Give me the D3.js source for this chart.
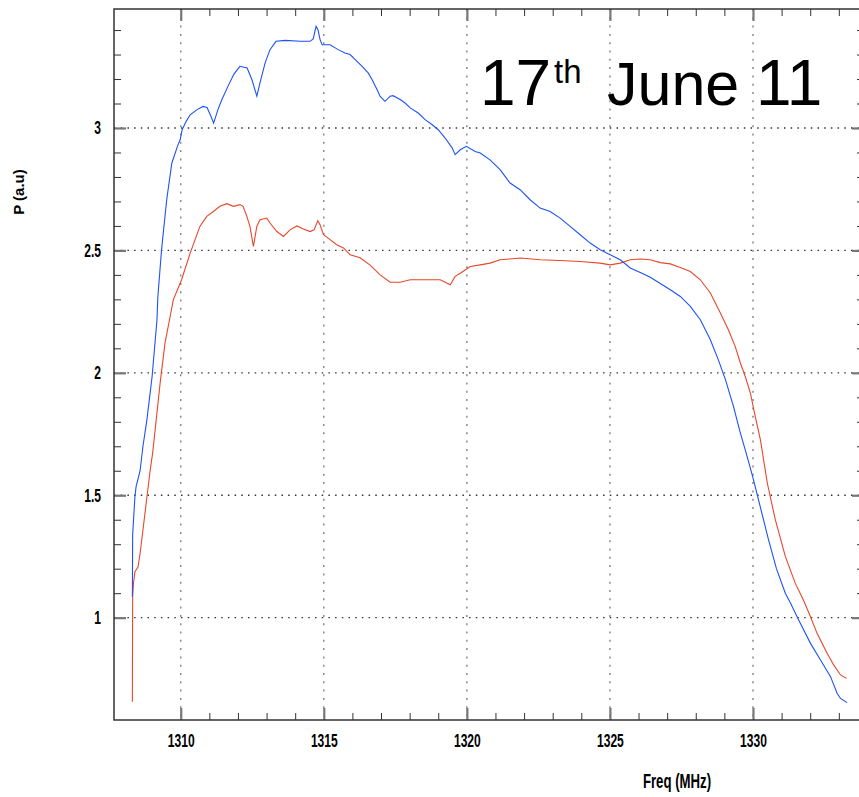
<!DOCTYPE html>
<html>
<head>
<meta charset="utf-8">
<script src="https://d3js.org/d3.v7.min.js"></script>
<style>
  body { margin: 0; background: #fff; }
</style>
</head>
<body>
<div id="chart"></div>
<script>
// traced values, frequency in MHz and power in a.u.
var blueFreq = [1308.31, 1308.32, 1308.40, 1308.44, 1308.58, 1308.68, 1308.82, 1309.00, 1309.17, 1309.20,
  1309.33, 1309.51, 1309.69, 1309.90, 1309.98, 1310.05, 1310.19, 1310.33, 1310.57, 1310.78,
  1310.92, 1311.06, 1311.15, 1311.30, 1311.44, 1311.65, 1311.86, 1312.07, 1312.32, 1312.49,
  1312.66, 1312.77, 1312.95, 1313.12, 1313.33, 1313.65, 1314.17, 1314.52, 1314.63, 1314.73,
  1314.80, 1314.87, 1314.94, 1315.22, 1315.50, 1315.74, 1315.92, 1316.09, 1316.34, 1316.55,
  1316.69, 1316.86, 1316.97, 1317.14, 1317.32, 1317.42, 1317.67, 1317.84, 1318.02, 1318.30,
  1318.54, 1318.79, 1319.00, 1319.24, 1319.49, 1319.59, 1319.77, 1319.98, 1320.29, 1320.47,
  1320.81, 1321.16, 1321.51, 1321.86, 1322.21, 1322.56, 1322.91, 1323.26, 1323.61, 1323.96,
  1324.31, 1324.66, 1325.01, 1325.36, 1325.71, 1326.06, 1326.41, 1326.76, 1327.11, 1327.46,
  1327.81, 1328.16, 1328.51, 1328.79, 1329.04, 1329.32, 1329.56, 1329.73, 1329.98, 1330.26,
  1330.54, 1330.82, 1331.13, 1331.31, 1331.54, 1332.01, 1332.36, 1332.71, 1332.94, 1333.06, 1333.29];
var bluePow = [1.085, 1.34, 1.495, 1.535, 1.60, 1.70, 1.81, 1.985, 2.217, 2.31,
  2.503, 2.707, 2.857, 2.93, 2.952, 2.993, 3.027, 3.054, 3.075, 3.088,
  3.084, 3.047, 3.02, 3.075, 3.116, 3.17, 3.22, 3.252, 3.245, 3.197,
  3.13, 3.184, 3.266, 3.32, 3.354, 3.358, 3.354, 3.354, 3.364, 3.415,
  3.40, 3.361, 3.34, 3.34, 3.32, 3.306, 3.30, 3.28, 3.252, 3.225,
  3.197, 3.157, 3.129, 3.109, 3.13, 3.132, 3.116, 3.102, 3.082, 3.061,
  3.034, 3.013, 2.993, 2.959, 2.918, 2.891, 2.911, 2.925, 2.904, 2.898,
  2.87, 2.83, 2.775, 2.748, 2.707, 2.673, 2.659, 2.632, 2.598, 2.564,
  2.53, 2.503, 2.482, 2.462, 2.428, 2.41, 2.39, 2.365, 2.339, 2.312,
  2.271, 2.217, 2.135, 2.053, 1.971, 1.862, 1.754, 1.685, 1.58, 1.45,
  1.32, 1.20, 1.10, 1.06, 1.004, 0.895, 0.827, 0.759, 0.691, 0.670, 0.653];

var redFreq = [1308.31, 1308.32, 1308.35, 1308.40, 1308.51, 1308.58, 1308.68, 1308.82, 1308.93, 1309.02,
  1309.28, 1309.45, 1309.63, 1309.74, 1310.03, 1310.33, 1310.67, 1310.91, 1311.14, 1311.37,
  1311.61, 1311.84, 1312.07, 1312.18, 1312.31, 1312.42, 1312.54, 1312.66, 1312.77, 1313.01,
  1313.12, 1313.36, 1313.59, 1313.82, 1314.06, 1314.29, 1314.52, 1314.66, 1314.79, 1314.87,
  1314.99, 1315.22, 1315.45, 1315.69, 1315.92, 1316.27, 1316.62, 1316.97, 1317.32, 1317.67,
  1318.02, 1318.37, 1318.72, 1319.07, 1319.42, 1319.59, 1319.77, 1320.12, 1320.47, 1320.81,
  1321.16, 1321.51, 1321.86, 1322.56, 1323.26, 1323.96, 1324.66, 1325.01, 1325.36, 1325.71,
  1326.06, 1326.41, 1326.76, 1327.11, 1327.46, 1327.81, 1328.16, 1328.51, 1328.86, 1329.14,
  1329.38, 1329.56, 1329.73, 1329.91, 1330.08, 1330.26, 1330.50, 1330.78, 1331.13, 1331.48,
  1331.77, 1332.01, 1332.24, 1332.59, 1332.82, 1333.06, 1333.27];
var redPow = [0.657, 1.085, 1.142, 1.188, 1.208, 1.263, 1.358, 1.494, 1.60, 1.674,
  1.958, 2.121, 2.23, 2.298, 2.38, 2.489, 2.598, 2.639, 2.659, 2.68,
  2.691, 2.68, 2.687, 2.68, 2.639, 2.598, 2.516, 2.598, 2.625, 2.632,
  2.612, 2.577, 2.557, 2.584, 2.60, 2.587, 2.577, 2.584, 2.621, 2.605,
  2.564, 2.544, 2.523, 2.51, 2.482, 2.47, 2.44, 2.40, 2.37, 2.37,
  2.38, 2.38, 2.38, 2.38, 2.36, 2.394, 2.407, 2.434, 2.441, 2.448,
  2.462, 2.465, 2.469, 2.462, 2.459, 2.455, 2.448, 2.441, 2.448, 2.462,
  2.465, 2.462, 2.45, 2.445, 2.43, 2.414, 2.38, 2.326, 2.244, 2.176,
  2.107, 2.04, 1.985, 1.917, 1.821, 1.726, 1.55, 1.40, 1.25, 1.14,
  1.07, 1.004, 0.936, 0.855, 0.807, 0.766, 0.752];

var xMajor = [1310, 1315, 1320, 1325, 1330];
var xMinor = [1311, 1312, 1313, 1314, 1316, 1317, 1318, 1319, 1321, 1322, 1323, 1324,
  1326, 1327, 1328, 1329, 1331, 1332, 1333];
var yMajor = [1, 1.5, 2, 2.5, 3];
var yMinor = [1.1, 1.2, 1.3, 1.4, 1.6, 1.7, 1.8, 1.9, 2.1, 2.2, 2.3, 2.4,
  2.6, 2.7, 2.8, 2.9, 3.1, 3.2, 3.3, 3.4];

var width = 859, height = 797;

var svg = d3.select("#chart").append("svg")
  .attr("width", width)
  .attr("height", height)
  .style("font-family", "'Liberation Sans', Arial, sans-serif");

var x = d3.scaleLinear().domain([1307.668, 1333.88]).range([114, 864]);
var y = d3.scaleLinear().domain([0.582, 3.486]).range([720, 9]);

var plotBottom = y.range()[0], plotTop = y.range()[1];
var plotLeft = x.range()[0], plotRight = x.range()[1];

// grid
svg.append("g").selectAll("line").data(xMajor).enter().append("line")
  .attr("x1", d => x(d)).attr("x2", d => x(d))
  .attr("y1", plotTop).attr("y2", plotBottom)
  .attr("stroke", "#8a8a8a").attr("stroke-width", 1.5)
  .attr("stroke-dasharray", "2,6.3");

svg.append("g").selectAll("line").data(yMajor).enter().append("line")
  .attr("x1", plotLeft).attr("x2", plotRight)
  .attr("y1", d => y(d)).attr("y2", d => y(d))
  .attr("stroke", "#333").attr("stroke-width", 1.3)
  .attr("stroke-dasharray", "1.5,5.2");

// curves
var line = d3.line().x(d => x(d[0])).y(d => y(d[1]));

svg.append("path")
  .datum(d3.zip(redFreq, redPow))
  .attr("d", line)
  .attr("fill", "none")
  .attr("stroke", "#e9462b")
  .attr("stroke-width", 1.1);

svg.append("path")
  .datum(d3.zip(blueFreq, bluePow))
  .attr("d", line)
  .attr("fill", "none")
  .attr("stroke", "#1d52f7")
  .attr("stroke-width", 1.1);

// axes, ticks drawn inward
function ticks(g, color, w) {
  g.select(".domain").remove();
  g.selectAll("line").attr("stroke", color).attr("stroke-width", w);
}

svg.append("g").attr("transform", "translate(0," + plotBottom + ")")
  .call(d3.axisBottom(x).tickValues(xMinor).tickSize(-7).tickFormat(""))
  .call(ticks, "#333", 1);
svg.append("g").attr("transform", "translate(0," + plotTop + ")")
  .call(d3.axisTop(x).tickValues(xMinor).tickSize(-7).tickFormat(""))
  .call(ticks, "#333", 1);
svg.append("g").attr("transform", "translate(" + plotLeft + ",0)")
  .call(d3.axisLeft(y).tickValues(yMinor).tickSize(-7).tickFormat(""))
  .call(ticks, "#333", 1);
svg.append("g").attr("transform", "translate(" + plotRight + ",0)")
  .call(d3.axisRight(y).tickValues(yMinor).tickSize(-7).tickFormat(""))
  .call(ticks, "#333", 1);

var xAx = svg.append("g").attr("transform", "translate(0," + plotBottom + ")")
  .call(d3.axisBottom(x).tickValues(xMajor).tickSize(-12).tickPadding(14).tickFormat(d3.format("d")))
  .call(ticks, "#777", 2.2);
svg.append("g").attr("transform", "translate(0," + plotTop + ")")
  .call(d3.axisTop(x).tickValues(xMajor).tickSize(-12).tickFormat(""))
  .call(ticks, "#777", 2.2);
var yAx = svg.append("g").attr("transform", "translate(" + plotLeft + ",0)")
  .call(d3.axisLeft(y).tickValues(yMajor).tickSize(-12).tickPadding(13).tickFormat(d3.format("~g")))
  .call(ticks, "#777", 2.2);
svg.append("g").attr("transform", "translate(" + plotRight + ",0)")
  .call(d3.axisRight(y).tickValues(yMajor).tickSize(-12).tickFormat(""))
  .call(ticks, "#777", 2.2);

xAx.selectAll("text")
  .attr("font-size", 18).attr("font-weight", "bold").attr("fill", "#000")
  .attr("font-family", "'Liberation Sans', Arial, sans-serif")
  .attr("transform", "scale(0.67,1)");
yAx.selectAll("text")
  .attr("font-size", 18).attr("font-weight", "bold").attr("fill", "#000")
  .attr("font-family", "'Liberation Sans', Arial, sans-serif")
  .attr("x", -13 / 0.67)
  .attr("transform", "scale(0.67,1)");

// frame
svg.append("rect")
  .attr("x", plotLeft).attr("y", plotTop)
  .attr("width", plotRight - plotLeft).attr("height", plotBottom - plotTop)
  .attr("fill", "none").attr("stroke", "#333").attr("stroke-width", 1.5);

// axis titles
svg.append("text")
  .attr("transform", "translate(677,788) scale(0.66,1)")
  .attr("text-anchor", "middle")
  .attr("font-size", 20).attr("font-weight", "bold")
  .text("Freq (MHz)");

svg.append("text")
  .attr("transform", "translate(24,192) rotate(-90)")
  .attr("text-anchor", "middle")
  .attr("font-size", 15).attr("font-weight", "bold")
  .text("P (a.u)");

// date label
var title = svg.append("g").attr("font-family", "'Liberation Sans', Arial, sans-serif");
title.append("text").attr("x", 480).attr("y", 105).attr("font-size", 64).text("17");
title.append("text").attr("x", 554).attr("y", 83).attr("font-size", 33).text("th");
title.append("text").attr("x", 607).attr("y", 105).attr("font-size", 61).text("June");
title.append("text").attr("x", 756).attr("y", 105).attr("font-size", 64).text("11");
</script>
</body>
</html>
